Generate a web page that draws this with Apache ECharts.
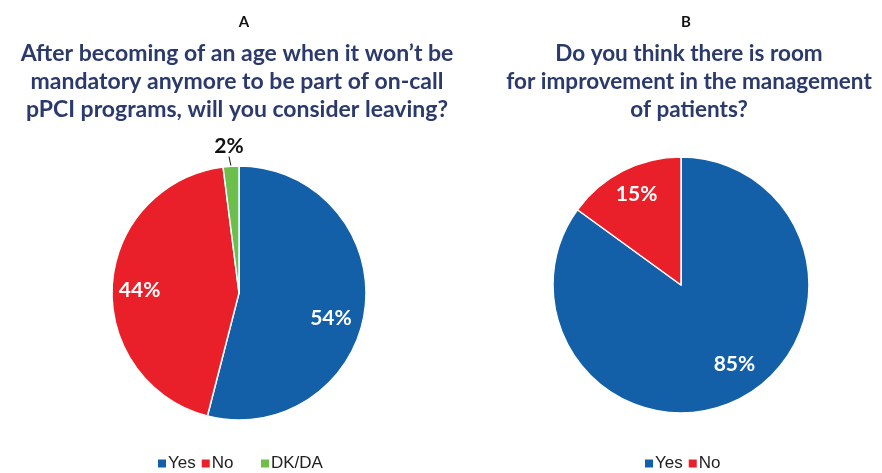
<!DOCTYPE html>
<html>
<head>
<meta charset="utf-8">
<script src="https://cdn.jsdelivr.net/npm/echarts@6/dist/echarts.min.js"></script>
<style>
  html, body { margin: 0; padding: 0; background: #fff; }
  #chart { width: 882px; height: 473px; }
</style>
</head>
<body>
<div id="chart"></div>
<script>
// Survey answers, percent of respondents
const leavingCategories = ['Yes', 'No', 'DK/DA'];
const leavingValues = [54, 44, 2];
const improvementCategories = ['Yes', 'No'];
const improvementValues = [85, 15];

const panelLetters = ['A', 'B'];
const questionA = 'After becoming of an age when it won\u2019t be\nmandatory anymore to be part of on-call\npPCI programs, will you consider leaving?';
const questionB = 'Do you think there is room\nfor improvement in the management\nof patients?';

const colorMap = { 'Yes': '#1460a8', 'No': '#e9202a', 'DK/DA': '#6dbf4b' };

// Per-slice label nudges (px) from the default inside position
const leavingOffsets = [[26, 17], [-33, 1], null];
const improvementOffsets = [[23, 20], [-14, -31]];

const titleFont = 'Lato, "Open Sans", sans-serif';
const legendFont = '"Liberation Sans", Arial, sans-serif';
const navy = '#2b3a6b';

function buildData(cats, vals, offsets) {
  return cats.map((name, i) => {
    const item = { name: name, value: vals[i], itemStyle: { color: colorMap[name] } };
    if (offsets[i]) {
      item.label = { position: 'inside', offset: offsets[i] };
    } else {
      // thin slice: label sits above the pie with a short leader line
      item.label = { position: 'outside', color: '#111', fontSize: 21 };
      item.labelLine = { show: true, length: 10, length2: 0, lineStyle: { color: '#111', width: 1 } };
    }
    return item;
  });
}

const chart = echarts.init(document.getElementById('chart'), null, { renderer: 'canvas' });

const pieBase = {
  type: 'pie',
  radius: 127,
  startAngle: 90,
  clockwise: true,
  avoidLabelOverlap: false,
  silent: true,
  itemStyle: { borderColor: '#fff', borderWidth: 1.5 },
  label: {
    show: true,
    formatter: '{c}%',
    color: '#fff',
    fontFamily: titleFont,
    fontWeight: 'bold',
    fontSize: 21
  },
  labelLine: { show: false }
};

function legendAt(names, left) {
  return {
    data: names, left: left, top: 455, padding: 0,
    itemWidth: 10, itemHeight: 10, itemGap: 4,
    icon: 'rect', selectedMode: false,
    textStyle: { fontFamily: legendFont, fontSize: 17, color: '#222', padding: [0, 0, 0, -4] }
  };
}

chart.setOption({
  backgroundColor: '#fff',
  animation: false,
  title: [
    { text: panelLetters[0], left: 239, top: 10, textAlign: 'center',
      textStyle: { fontFamily: titleFont, fontWeight: 'bold', fontSize: 15, color: '#111' } },
    { text: panelLetters[1], left: 681, top: 10, textAlign: 'center',
      textStyle: { fontFamily: titleFont, fontWeight: 'bold', fontSize: 15, color: '#111' } },
    { text: questionA, left: 232, top: 35, textAlign: 'center',
      textStyle: { fontFamily: titleFont, fontWeight: 'bold', fontSize: 23, lineHeight: 28, color: navy, align: 'center' } },
    { text: questionB, left: 684, top: 35, textAlign: 'center',
      textStyle: { fontFamily: titleFont, fontWeight: 'bold', fontSize: 22.5, lineHeight: 28, color: navy, align: 'center' } }
  ],
  legend: [
    legendAt(['Yes', 'No'], 156),
    legendAt(['DK/DA'], 259),
    legendAt(['Yes', 'No'], 643)
  ],
  series: [
    Object.assign({}, pieBase, {
      name: 'leaving',
      center: [239, 293],
      data: buildData(leavingCategories, leavingValues, leavingOffsets),
      labelLayout: function (p) {
        if (p.dataIndex === 2) {
          return { x: 229, y: 146, align: 'center', verticalAlign: 'middle' };
        }
        return {};
      }
    }),
    Object.assign({}, pieBase, {
      name: 'improvement',
      center: [681, 285],
      radius: 128,
      data: buildData(improvementCategories, improvementValues, improvementOffsets)
    })
  ]
});
</script>
</body>
</html>
